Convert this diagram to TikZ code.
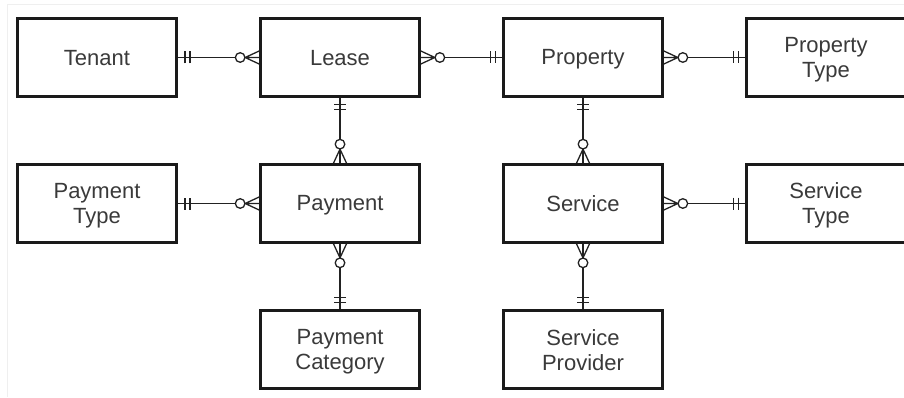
\documentclass[tikz,border=0pt]{standalone}
\usepackage{fontspec}
\setmainfont{Liberation Sans}
\definecolor{boxc}{HTML}{1A1A1A}
\definecolor{txtc}{HTML}{3A3A3A}
\definecolor{linec}{HTML}{222222}
\definecolor{framec}{HTML}{EFEFEF}
\newcommand\stl{\rule[-3pt]{0pt}{22pt}}
\newcommand\mkone[2]{\begin{scope}[shift={(#1)},rotate=#2]
  \draw[rel] (7,-6)--(7,6) (12,-6)--(12,6);\end{scope}}
\newcommand\mkzm[2]{\begin{scope}[shift={(#1)},rotate=#2]
  \draw[rel] (0,-6.5)--(14,0)--(0,6.5) (0,0)--(14,0);
  \draw[rel,fill=white] (19,0) circle (4.8);\end{scope}}
\begin{document}
\begin{tikzpicture}[x=1pt,y=1pt,
  ent/.style={draw=boxc, line width=2.7pt, minimum width=159pt, minimum height=78pt,
    align=center, font=\fontsize{22}{25}\selectfont, text=txtc, fill=white, inner sep=0pt},
  rel/.style={line width=1.3pt, draw=linec}]
\useasboundingbox (0,0) rectangle (904,397);
\fill[white] (0,0) rectangle (904,397);
\draw[framec, line width=1.2pt] (7.5,0) -- (7.5,392.5) -- (904,392.5);
% row 1
\node[ent] (tenant) at (97,339.5) {Tenant\stl};
\node[ent] (lease) at (340,339.5) {Lease\stl};
\node[ent] (prop) at (583,339.5) {Property\stl};
\node[ent] (ptype) at (826,339.5) {Property\stl\\Type\stl};
% row 2
\node[ent] (paytype) at (97,193.5) {Payment\stl\\Type\stl};
\node[ent] (pay) at (340,193.5) {Payment\stl};
\node[ent] (serv) at (583,193.5) {Service\stl};
\node[ent] (stype) at (826,193.5) {Service\stl\\Type\stl};
% row 3
\node[ent] (paycat) at (340,47.5) {Payment\stl\\Category\stl};
\node[ent] (sprov) at (583,47.5) {Service\stl\\Provider\stl};
% connectors
\draw[rel] (tenant.east) -- (lease.west);
\draw[rel] (lease.east) -- (prop.west);
\draw[rel] (prop.east) -- (ptype.west);
\draw[rel] (lease.south) -- (pay.north);
\draw[rel] (prop.south) -- (serv.north);
\draw[rel] (paytype.east) -- (pay.west);
\draw[rel] (serv.east) -- (stype.west);
\draw[rel] (pay.south) -- (paycat.north);
\draw[rel] (serv.south) -- (sprov.north);
% markers
\mkone{tenant.east}{0}
\mkzm{lease.west}{180}
\mkzm{lease.east}{0}
\mkone{prop.west}{180}
\mkzm{prop.east}{0}
\mkone{ptype.west}{180}
\mkone{lease.south}{-90}
\mkzm{pay.north}{90}
\mkone{prop.south}{-90}
\mkzm{serv.north}{90}
\mkone{paytype.east}{0}
\mkzm{pay.west}{180}
\mkzm{serv.east}{0}
\mkone{stype.west}{180}
\mkzm{pay.south}{-90}
\mkone{paycat.north}{90}
\mkzm{serv.south}{-90}
\mkone{sprov.north}{90}
\end{tikzpicture}
\end{document}
